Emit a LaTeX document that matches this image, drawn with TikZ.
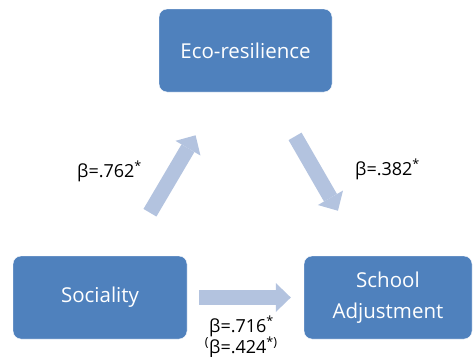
\documentclass[tikz,border=0pt]{standalone}
\usepackage{fontspec}
\setmainfont{Open Sans}
\usetikzlibrary{arrows.meta}
\definecolor{boxblue}{RGB}{79,129,189}
\definecolor{arrowblue}{RGB}{179,195,223}
\begin{document}
\begin{tikzpicture}[x=1pt, y=-1pt,
   box/.style={draw=white, fill=boxblue, rounded corners=8pt, text=white,
               minimum width=173pt, minimum height=83pt, inner sep=0pt, align=center,
               font=\fontsize{20.5}{31.5}\selectfont},
   link/.style={draw=arrowblue, line width=15pt,
               -{Triangle[width=29pt, length=15pt, line width=0pt]}},
   coef/.style={font=\fontsize{18}{20}\selectfont, inner sep=0pt, anchor=base west}]

\useasboundingbox (0,0) rectangle (473,356);

\node[box] (eco) at (245.5,50.5) {Eco-resilience};
\node[box, minimum width=174pt] (soc) at (100,297.5) {Sociality};
\node[box, minimum width=168pt] (adj) at (388,297.5) {School\\Adjustment};

\draw[link, shorten <=50pt, shorten >=50pt] (soc) -- (eco);
\draw[link, shorten <=51pt, shorten >=52pt] (eco) -- (adj);
\draw[link, shorten <=12pt, shorten >=13pt] (soc) -- (adj);

\node[coef] (b1) at (77,177) {β=.762\textsuperscript{*}};
\node[coef] (b2) at (355,175) {β=.382\textsuperscript{*}};
\node[coef] (b3) at (209,332) {β=.716\textsuperscript{*}};
\node[coef] (b4) at (209,353) {\llap{\textsuperscript{(}}β=.424\textsuperscript{*)}};

\end{tikzpicture}
\end{document}
